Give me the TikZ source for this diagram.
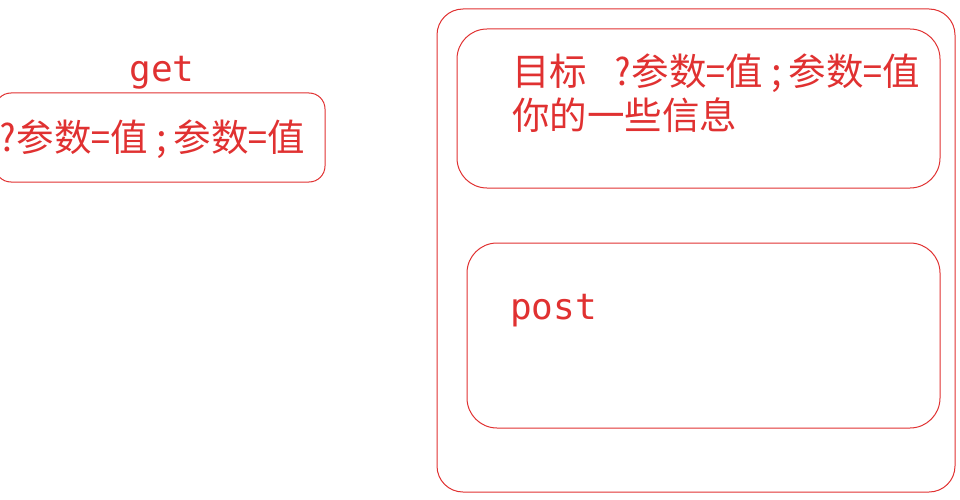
\documentclass[tikz,border=0pt]{standalone}
\usepackage{fontspec}
\newfontfamily\cjk[RawFeature=+hwid]{Noto Sans CJK SC}
\newfontfamily\codefont{DejaVu Sans Mono}
\definecolor{exred}{HTML}{E03131}
\newcommand{\wsemi}{\kern4pt;\kern3pt}
\begin{document}
\begin{tikzpicture}[x=1pt,y=-1pt,
  sketchbox/.style={draw=exred, line width=1pt, rounded corners=#1, inner sep=0pt},
  sketchbox/.default=16pt,
  cjktext/.style={text=exred, font=\cjk\fontsize{37.5}{43}\selectfont, inner sep=0pt},
  codetext/.style={text=exred, font=\codefont\fontsize{36}{42}\selectfont, inner sep=0pt}]
\useasboundingbox (0,0) rectangle (960,500);
% left: get
\node[codetext, anchor=base] (get) at (162,82) {get};
\node[sketchbox=16pt, minimum width=330pt, minimum height=89pt] (getbox) at (160,137.5) {};
\node[cjktext, anchor=base west] (getparams) at (-2,151) {?参数=值\wsemi 参数=值};
% right: outer container
\node[sketchbox=26pt, minimum width=518pt, minimum height=483pt] (outer) at (696,250.5) {};
\node[sketchbox=30pt, minimum width=483pt, minimum height=159pt] (target) at (698.5,108.5) {};
\node[cjktext, anchor=base west] (line1) at (512,86) {目标\hspace{26pt}?参数=值\wsemi 参数=值};
\node[cjktext, anchor=base west] (line2) at (512,129) {你的一些信息};
\node[sketchbox=30pt, minimum width=473pt, minimum height=185pt] (postbox) at (703.5,335.5) {};
\node[codetext, anchor=base west] (post) at (510,319) {post};
\end{tikzpicture}
\end{document}
